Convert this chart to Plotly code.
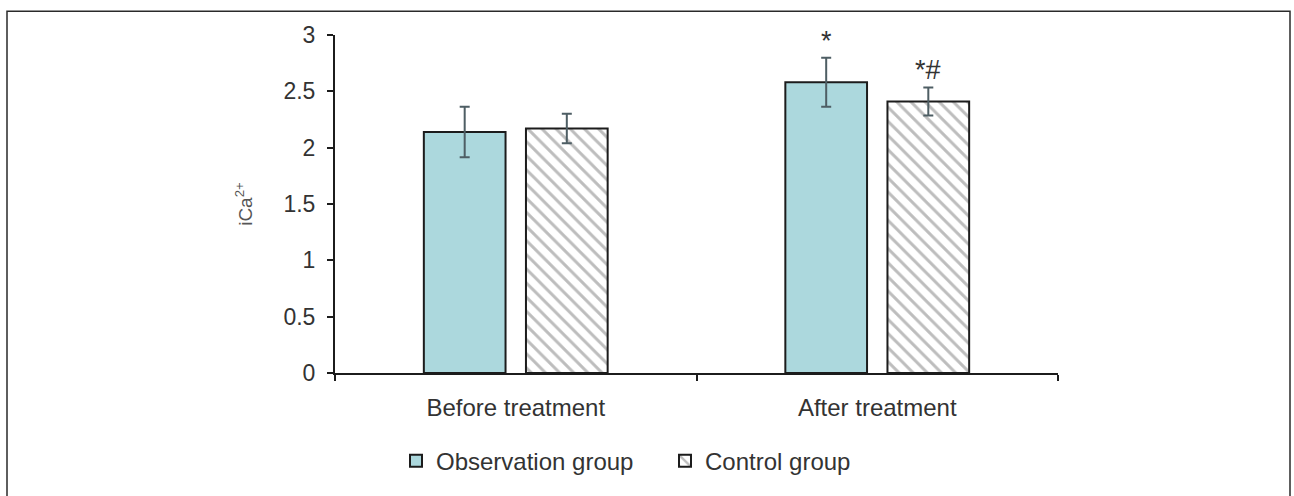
import plotly.graph_objects as go

categories = ["Before treatment", "After treatment"]
obs_values = [2.14, 2.58]
obs_errors = [0.224, 0.217]
ctrl_values = [2.17, 2.41]
ctrl_errors = [0.13, 0.125]
obs_marks = ["", "*"]
ctrl_marks = ["", "*#"]
y_ticks = [0, 0.5, 1, 1.5, 2, 2.5, 3]
y_ticktext = ["0", "0.5", "1", "1.5", "2", "2.5", "3"]

W, H = 1294, 496
L, R, T, B = 335, W - 1058, 35, H - 376
BARGAP = 0.435
FONT = "Liberation Sans, Arial, sans-serif"

fig = go.Figure()
fig.add_trace(go.Bar(
    name="Observation group", x=categories, y=obs_values,
    marker=dict(color="#acd8dd", line=dict(color="#1c1c1c", width=2)),
    error_y=dict(type="data", array=obs_errors, color="#4e5e64", thickness=2, width=5),
))
fig.add_trace(go.Bar(
    name="Control group", x=categories, y=ctrl_values,
    marker=dict(color="white", line=dict(color="#1c1c1c", width=2),
                pattern=dict(shape="\\", fgcolor="#7c7c7c", bgcolor="white", size=10, solidity=0.3)),
    error_y=dict(type="data", array=ctrl_errors, color="#4e5e64", thickness=2, width=5),
))

off = (1 - BARGAP) / 4
for i, cat in enumerate(categories):
    for vals, errs, marks, sgn in ((obs_values, obs_errors, obs_marks, -1),
                                   (ctrl_values, ctrl_errors, ctrl_marks, 1)):
        if marks[i]:
            fig.add_annotation(x=i + sgn * off, y=vals[i] + errs[i], xref="x", yref="y",
                               text=marks[i], showarrow=False, yanchor="bottom", yshift=0,
                               font=dict(family=FONT, size=27, color="#333333"))

# outer frame
pw, ph = W - L - R, H - T - B
fig.add_shape(type="rect", xref="paper", yref="paper",
              x0=(7 - L) / pw, x1=(1290 - L) / pw,
              y0=(376 - 520) / ph, y1=(376 - 11) / ph,
              line=dict(color="#2a2a2a", width=1.5), layer="below")

fig.update_layout(
    width=W, height=H,
    margin=dict(l=L, r=R, t=T, b=B),
    paper_bgcolor="white", plot_bgcolor="white",
    barmode="group", bargap=BARGAP, bargroupgap=0.2,
    font=dict(family=FONT, color="#333333"),
    showlegend=True,
    legend=dict(orientation="h", x=(396 - L) / pw, xanchor="left",
                y=(376 - 465) / ph, yanchor="middle",
                font=dict(family=FONT, size=24, color="#333333"),
                entrywidth=224, entrywidthmode="pixels", bgcolor="rgba(0,0,0,0)"),
    xaxis=dict(type="category", range=[-0.5, 1.5], showline=True, linecolor="#1c1c1c", linewidth=2,
               ticks="outside", tickson="boundaries", ticklen=6, tickwidth=2, tickcolor="#1c1c1c",
               ticklabelstandoff=12,
               tickfont=dict(family=FONT, size=24, color="#333333"), showgrid=False, zeroline=False),
    yaxis=dict(range=[0, 3], tickvals=y_ticks, ticktext=y_ticktext, showline=True,
               linecolor="#1c1c1c", linewidth=2, ticks="outside", ticklen=6, tickwidth=2,
               tickcolor="#1c1c1c", tickfont=dict(family=FONT, size=23, color="#333333"),
               ticklabelstandoff=7,
               showgrid=False, zeroline=False,
               title=dict(text="iCa<sup>2+</sup>", standoff=26,
                          font=dict(family=FONT, size=19, color="#555555"))),
)

fig.write_html("out.html", config={"displayModeBar": False},
               post_script="document.body.style.margin='0';")
